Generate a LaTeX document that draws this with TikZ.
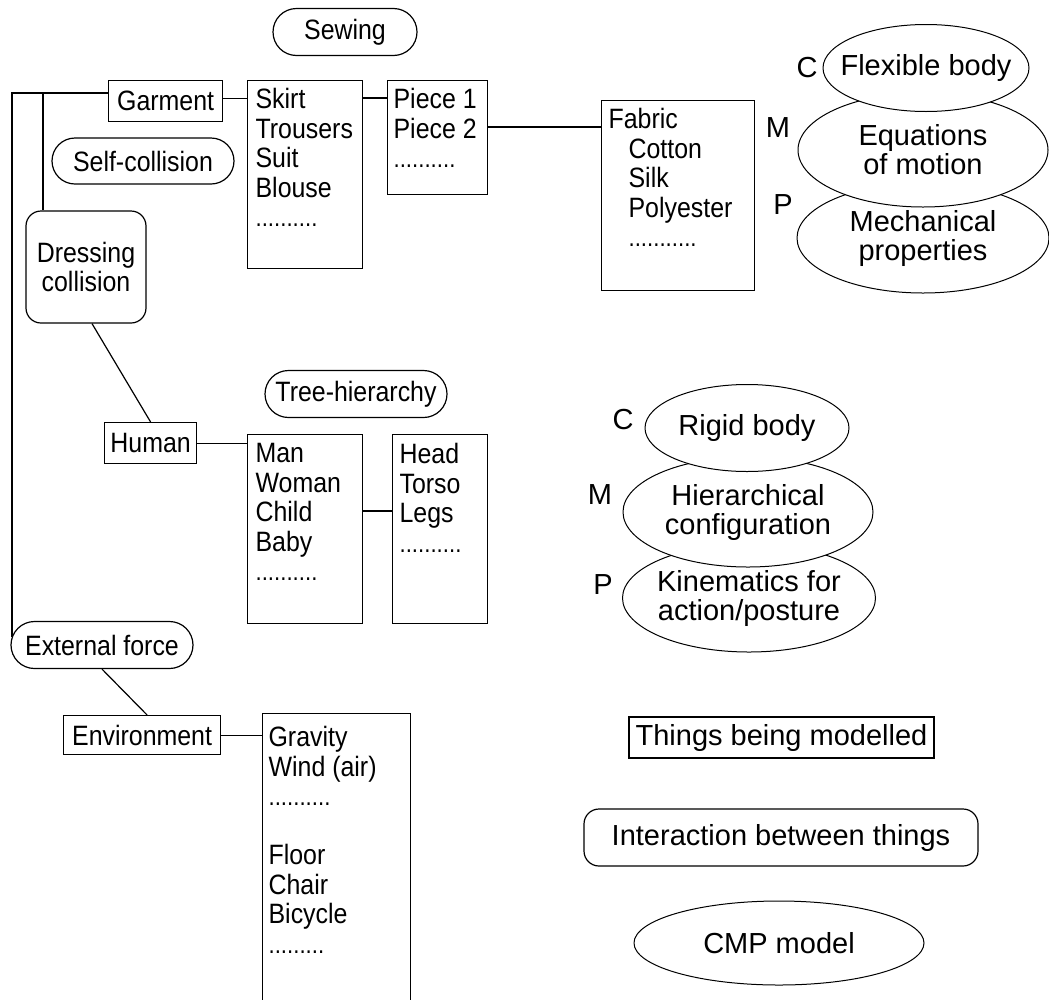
\documentclass[tikz,border=0pt]{standalone}
\usepackage{fontspec}
\setmainfont[FakeStretch=0.89]{Liberation Sans}
\newfontfamily\bigf{Liberation Sans}
\usetikzlibrary{shapes.geometric,shapes.misc}
\tikzset{
  thing/.style={draw, rectangle, anchor=north west},
  listtext/.style={anchor=north west, align=left},
  stadium/.style={draw, rounded rectangle},
  roundbox/.style={draw, rounded corners=15pt},
  cmpshape/.style={draw, ellipse, fill=white, line width=1pt},
  cmptext/.style={align=center, font=\bigf\fontsize{29}{29}\selectfont},
  lbl/.style={font=\bigf\fontsize{29}{29}\selectfont},
}
\newcommand{\dts}[1]{{\fontsize{25}{29.5}\selectfont #1}}
\begin{document}
\begin{tikzpicture}[x=1pt,y=-1pt, line width=1.2pt,
  every node/.style={inner sep=0pt, font=\fontsize{28}{29.5}\selectfont}]
\useasboundingbox (0,0) rectangle (1049,999);
\clip (0,0) rectangle (1049,999);

% ---- Garment branch
\node[stadium, minimum width=144pt, minimum height=47pt] (sewing) at (345,32) {Sewing};
\node[thing, minimum width=114pt, minimum height=41pt] (garment) at (108,80) {Garment};
\node[stadium, minimum width=182pt, minimum height=46pt] (selfcol) at (143,161) {Self-collision};
\node[roundbox, minimum width=120pt, minimum height=112pt, align=center] (dress) at (86,267) {Dressing\\collision};

\node[thing, minimum width=115pt, minimum height=188pt] (skirt) at (247,80) {};
\node[listtext] (skirtt) at (255,88) {Skirt\\Trousers\\Suit\\Blouse\\\dts{..........}};

\node[thing, minimum width=100pt, minimum height=114pt] (piece) at (387,80) {};
\node[listtext] (piecet) at (393,88) {Piece 1\\Piece 2\\\dts{..........}};

\node[thing, minimum width=153pt, minimum height=190pt] (fabric) at (601,100) {};
\node[listtext] (fabrict) at (608,108) {Fabric\\\hspace*{20pt}Cotton\\\hspace*{20pt}Silk\\\hspace*{20pt}Polyester\\\hspace*{20pt}\dts{...........}};

% ---- CMP of garment
\node[cmpshape, minimum width=252pt, minimum height=110pt] (mech) at (923,238) {};
\node[cmptext] (mecht) at (mech) {Mechanical\\properties};
\node[cmpshape, minimum width=250pt, minimum height=114pt] (equ) at (923,150) {};
\node[cmptext] (equt) at (equ) {Equations\\of motion};
\node[cmpshape, minimum width=206pt, minimum height=87pt] (flex) at (926,68) {};
\node[cmptext] (flext) at (flex) {Flexible body};
\node[lbl] (lc1) at (807,68) {C};
\node[lbl] (lm1) at (778,128) {M};
\node[lbl] (lp1) at (783,205) {P};

% ---- Human branch
\node[thing, minimum width=92pt, minimum height=41pt] (human) at (104,422) {Human};
\node[stadium, minimum width=182pt, minimum height=47pt] (tree) at (356,394) {Tree-hierarchy};
\node[thing, minimum width=115pt, minimum height=189pt] (man) at (247,434) {};
\node[listtext] (mant) at (255,443) {Man\\Woman\\Child\\Baby\\\dts{..........}};
\node[thing, minimum width=95pt, minimum height=189pt] (head) at (392,434) {};
\node[listtext] (headt) at (399,443) {Head\\Torso\\Legs\\\dts{..........}};

\node[cmpshape, minimum width=253pt, minimum height=108pt] (kin) at (749,598) {};
\node[cmptext] (kint) at (kin) {Kinematics for\\action/posture};
\node[cmpshape, minimum width=250pt, minimum height=110pt] (hier) at (748,512) {};
\node[cmptext] (hiert) at (hier) {Hierarchical\\configuration};
\node[cmpshape, minimum width=204pt, minimum height=87pt] (rigid) at (747,428) {};
\node[cmptext] (rigidt) at (rigid) {Rigid body};
\node[lbl] (lc2) at (623,420) {C};
\node[lbl] (lm2) at (600,495) {M};
\node[lbl] (lp2) at (603,585) {P};

% ---- Environment branch
\node[stadium, minimum width=182pt, minimum height=47pt] (extf) at (102,645) {External force};
\node[thing, minimum width=157pt, minimum height=39pt] (env) at (63,715) {Environment};
\node[thing, minimum width=148pt, minimum height=330pt] (grav) at (262,713) {};
\node[listtext] (gravt) at (268,726) {Gravity\\Wind (air)\\\dts{..........}\\[29.5pt]Floor\\Chair\\Bicycle\\\dts{.........}};

% ---- Legend
\node[draw, rectangle, minimum width=305pt, minimum height=41pt, font=\bigf\fontsize{29}{29}\selectfont] (legthing) at (781.5,737.5) {Things being modelled};
\node[roundbox, minimum width=394pt, minimum height=57pt, font=\bigf\fontsize{29}{29}\selectfont] (leginter) at (781,837.5) {Interaction between things};
\node[cmpshape, minimum width=290pt, minimum height=84pt] (legcmp) at (779,943) {};
\node[cmptext] (legcmpt) at (legcmp) {CMP model};

% ---- Connectors
\coordinate (g1) at (12,93);
\coordinate (g2) at (43,93);
\coordinate (e1) at (12,637);
\draw (e1) -- (g1) -- (g1 -| garment.west);
\draw (g2) -- (g2 |- dress.north);
\coordinate (ga) at ([yshift=2.5pt]garment.east);
\draw (ga) -- (ga -| skirt.west);
\coordinate (sk) at ([yshift=-18pt]skirt.north east);
\draw (sk) -- (sk -| piece.west);
\coordinate (pc) at ([yshift=-47pt]piece.north east);
\draw (pc) -- (pc -| fabric.west);
\draw ([xshift=6pt]dress.south) -- (human.north);
\draw (human.east) -- (human.east -| man.west);
\coordinate (mn) at ([yshift=-77pt]man.north east);
\draw (mn) -- (mn -| head.west);
\draw (extf.south) -- ([xshift=5pt]env.north);
\draw (env.east) -- (env.east -| grav.west);
\end{tikzpicture}
\end{document}
